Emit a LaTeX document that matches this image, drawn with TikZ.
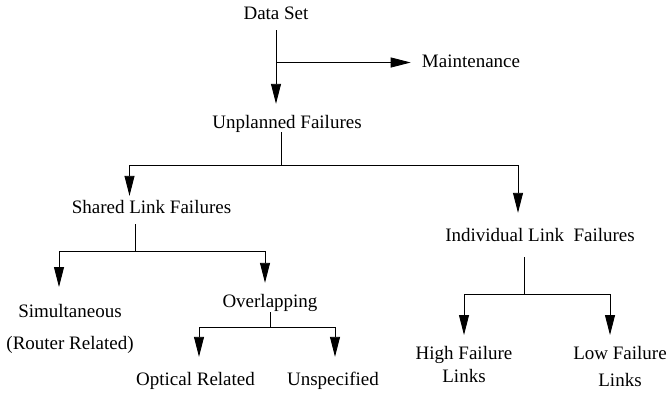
\documentclass[tikz,border=0pt]{standalone}
\usepackage{fontspec}
\setmainfont{LiberationSerif}[Extension=.ttf,UprightFont=*-Regular,BoldFont=*-Bold]
\usepackage{tikz}
\usetikzlibrary{arrows.meta}

\begin{document}
\begin{tikzpicture}[
    x=1pt,y=-1pt,
    font=\rmfamily\fontsize{19}{22}\selectfont,
    lbl/.style={inner sep=0pt,text height=13pt,text depth=4pt},
    lbl2/.style={inner sep=0pt,align=center,anchor=north},
    ln/.style={line width=0.9pt},
    arr/.style={ln,-{Triangle[length=20pt,width=10pt]}}
  ]
    \useasboundingbox (0,0) rectangle (669,397);

    \node[lbl] (ds) at (276,14.5) {Data Set};
    \node[lbl] (mt) at (471,62.5) {Maintenance};
    \node[lbl] (uf) at (287,123.5) {Unplanned Failures};
    \node[lbl] (sl) at (151.5,208.5) {Shared Link Failures};
    \node[lbl] (il) at (540,236.5) {Individual Link\ \ Failures};
    \node[lbl2] (si) at (70,304.5) {Simultaneous\\[10pt](Router Related)};
    \node[lbl] (ov) at (270,302.5) {Overlapping};
    \node[lbl] (op) at (195.5,380.5) {Optical Related};
    \node[lbl] (un) at (333,380.5) {Unspecified};
    \node[lbl2] (hf) at (464,346.5) {High Failure\\[1pt]Links};
    \node[lbl2] (lf) at (620,346.5) {Low Failure\\[5pt]Links};

    \coordinate (j1) at (281,165);
    \coordinate (j2) at (135,251);
    \coordinate (j3) at (270,327);
    \coordinate (j4) at (524,294);

    \draw[arr,shorten <=7pt,shorten >=11pt] (ds.south) -- (ds.south |- uf.north);
    \draw[arr,shorten >=11pt] (ds.south |- mt.west) -- (mt.west);

    \draw[ln] (uf.south -| j1) -- (j1);
    \draw[arr,shorten >=4pt] (j1) -| ([xshift=-22pt]sl.north);
    \draw[arr,shorten >=15pt] (j1) -| ([xshift=-22pt]il.north);

    \draw[ln,shorten <=7pt] (sl.south -| j2) -- (j2);
    \draw[arr,shorten >=17.5pt] (j2) -| ([xshift=-11pt]si.north);
    \draw[arr,shorten >=11pt] (j2) -| ([xshift=-5pt]ov.north);

    \draw[ln,shorten <=1pt] (ov.south -| j3) -- (j3);
    \draw[arr,shorten >=15pt] (j3) -| ([xshift=3.5pt]op.north);
    \draw[arr,shorten >=15pt] (j3) -| ([xshift=2pt]un.north);

    \draw[ln,shorten <=12pt] (il.south -| j4) -- (j4);
    \draw[arr,shorten >=11.5pt] (j4) -| (hf.north);
    \draw[arr,shorten >=11.5pt] (j4) -| ([xshift=-10pt]lf.north);
  \end{tikzpicture}
\end{document}
